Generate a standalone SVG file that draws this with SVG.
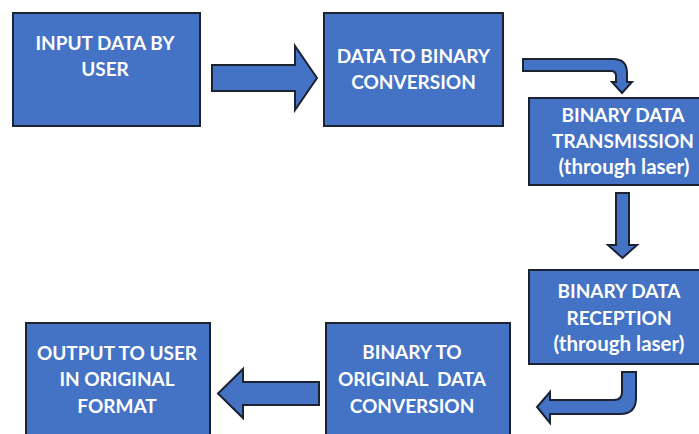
<svg xmlns="http://www.w3.org/2000/svg" width="699" height="434" viewBox="0 0 699 434">
  <style>
    .box { fill: #4472C4; stroke: #1b2230; stroke-width: 2; }
    .arrow { fill: #4472C4; stroke: #1b2230; stroke-width: 2; stroke-linejoin: miter; }
    .label { fill: #ffffff; font-family: Lato, "Open Sans", "Liberation Sans", sans-serif; font-weight: bold; font-size: 19px; text-anchor: middle; }
    .small { font-size: 20.5px; }
  </style>
  <rect width="699" height="434" fill="#ffffff"/>

  <!-- flow connectors -->
  <g id="connectors">
    <!-- input -> binary conversion -->
    <path class="arrow" d="M212,65 H295 V46 L317,78 L295,110 V91 H212 Z"/>
    <!-- binary conversion -> transmission (bent) -->
    <path class="arrow" d="M523,59 H613 Q627,59 627,73 V82 H632 L622,93 L612,82 H616 V76 Q616,71 611,71 H523 Z"/>
    <!-- transmission -> reception -->
    <path class="arrow" d="M616,193 H629 V245 H637 L622.5,258 L608,245 H616 Z"/>
    <!-- reception -> back conversion (bent) -->
    <path class="arrow" d="M622,372 H636 V398 Q636,414 620,414 H550 V423 L537,407 L550,392 V400 H614 Q622,400 622,392 Z"/>
    <!-- back conversion -> output -->
    <path class="arrow" d="M319,382 V405 H243 V418 L218,393.5 L243,369 V382 Z"/>
  </g>

  <g id="node-input">
    <rect class="box" x="13" y="13" width="187" height="113"/>
    <text class="label" x="105" y="50">INPUT DATA BY</text>
    <text class="label" x="105" y="76">USER</text>
  </g>

  <g id="node-to-binary">
    <rect class="box" x="324" y="13" width="179" height="113"/>
    <text class="label" x="413.5" y="63">DATA TO BINARY</text>
    <text class="label" x="413.5" y="89">CONVERSION</text>
  </g>

  <g id="node-transmission">
    <rect class="box" x="529" y="98" width="190" height="87"/>
    <text class="label" x="623" y="122">BINARY DATA</text>
    <text class="label" x="623" y="148">TRANSMISSION</text>
    <text class="label small" x="624" y="174">(through laser)</text>
  </g>

  <g id="node-reception">
    <rect class="box" x="529" y="270" width="190" height="94"/>
    <text class="label" x="619" y="298">BINARY DATA</text>
    <text class="label" x="619" y="325">RECEPTION</text>
    <text class="label small" x="619" y="351">(through laser)</text>
  </g>

  <g id="node-to-original">
    <rect class="box" x="326" y="323" width="184" height="125"/>
    <text class="label" x="412" y="359">BINARY TO</text>
    <text class="label" x="412" y="386" xml:space="preserve">ORIGINAL  DATA</text>
    <text class="label" x="412" y="413">CONVERSION</text>
  </g>

  <g id="node-output">
    <rect class="box" x="26" y="323" width="184" height="125"/>
    <text class="label" x="117" y="360">OUTPUT TO USER</text>
    <text class="label" x="117" y="386">IN ORIGINAL</text>
    <text class="label" x="117" y="413">FORMAT</text>
  </g>
</svg>
